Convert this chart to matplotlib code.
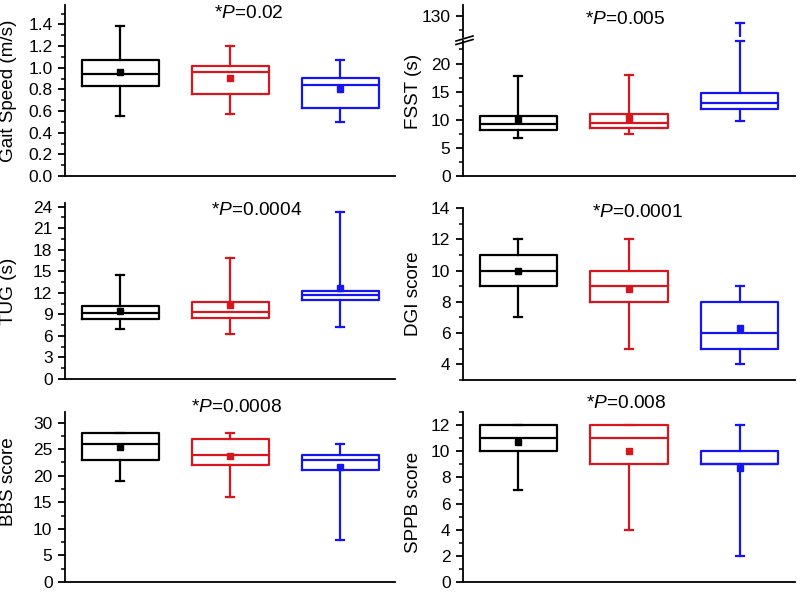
import matplotlib.pyplot as plt
from matplotlib.ticker import MultipleLocator
from matplotlib.lines import Line2D

plt.rcParams['font.family'] = ['Liberation Sans', 'DejaVu Sans']
plt.rcParams['mathtext.fontset'] = 'custom'
plt.rcParams['mathtext.rm'] = 'Liberation Sans'
plt.rcParams['mathtext.it'] = 'Liberation Sans:italic'
plt.rcParams['font.size'] = 12

# 그룹 색 (검정, 빨강, 파랑)
colors = ['#000000', '#d8161d', '#1515f2']

# 각 행: [whisker low, Q1, median, Q3, whisker high, mean]
gait_speed = [[0.55, 0.83, 0.94, 1.07, 1.39, 0.965],
              [0.57, 0.76, 0.965, 1.02, 1.20, 0.905],
              [0.50, 0.63, 0.84, 0.91, 1.07, 0.80]]
fsst = [[6.75, 8.2, 9.2, 10.65, 17.7, 10.15],
        [7.4, 8.6, 9.35, 11.0, 18.0, 10.4],
        [9.8, 11.9, 12.9, 14.7, 128.8, float('nan')]]
tug = [[7.0, 8.35, 9.15, 10.1, 14.45, 9.45],
       [6.2, 8.45, 9.3, 10.65, 16.9, 10.25],
       [7.2, 10.95, 11.65, 12.2, 23.2, 12.6]]
dgi = [[7, 9, 10, 11, 12, 9.97],
       [5, 8, 9, 10, 12, 8.8],
       [4, 5, 6, 8, 9, 6.35]]
bbs = [[19, 23, 26, 28, 28, 25.4],
       [16, 22, 24, 27, 28, 23.7],
       [8, 21, 23, 24, 26, 21.6]]
sppb = [[7, 10, 11, 12, 12, 10.7],
        [4, 9, 11, 12, 12, 10.05],
        [2, 9, 9, 10, 12, 8.75]]

p_texts = ['0.02', '0.005', '0.0004', '0.0001', '0.0008', '0.008']
y_labels = ['Gait Speed (m/s)', 'FSST (s)', 'TUG (s)', 'DGI score', 'BBS score', 'SPPB score']

W, H = 800, 595


def px_axes(x0, y0, x1, y1):
    # 픽셀 좌표(위에서부터)로 axes 만들기
    return fig.add_axes([x0 / W, 1 - y1 / H, (x1 - x0) / W, (y1 - y0) / H])


def style_axes(ax, major, minor, ylim):
    ax.set_xlim(0.5, 3.5)
    ax.set_ylim(*ylim)
    ax.set_xticks([])
    ax.yaxis.set_major_locator(MultipleLocator(major))
    ax.yaxis.set_minor_locator(MultipleLocator(minor))
    ax.spines['top'].set_visible(False)
    ax.spines['right'].set_visible(False)
    for s in ['left', 'bottom']:
        ax.spines[s].set_linewidth(1.3)
    ax.tick_params(axis='y', which='major', length=5, width=1.3, pad=4, labelsize=12.5)
    ax.tick_params(axis='y', which='minor', length=3, width=1.1)


def draw_boxes(ax, rows):
    stats = []
    for r in rows:
        stats.append(dict(whislo=r[0], q1=r[1], med=r[2], q3=r[3], whishi=r[4], mean=r[5]))
    res = ax.bxp(stats, positions=[1, 2, 3], widths=0.7, capwidths=0.075,
                 showmeans=True, showfliers=False, manage_ticks=False,
                 boxprops=dict(linewidth=1.6), medianprops=dict(linewidth=1.6),
                 whiskerprops=dict(linewidth=1.6), capprops=dict(linewidth=1.6),
                 meanprops=dict(marker='s', markersize=4.5))
    for i, c in enumerate(colors):
        res['boxes'][i].set_color(c)
        res['medians'][i].set_color(c)
        res['means'][i].set_markerfacecolor(c)
        res['means'][i].set_markeredgecolor(c)
        for j in (2 * i, 2 * i + 1):
            res['whiskers'][j].set_color(c)
            res['caps'][j].set_color(c)
    return res


fig = plt.figure(figsize=(8, 5.95), dpi=100)

# 1. Gait speed
ax1 = px_axes(65, 5, 395, 176)
draw_boxes(ax1, gait_speed)
style_axes(ax1, 0.2, 0.1, (0, 1.58))
ax1.yaxis.set_major_formatter(lambda v, p: f'{v:.1f}')

# 2. FSST (끊긴 축)
ax2 = px_axes(463, 41, 795, 176)
ax2u = px_axes(463, 5, 795, 37)
draw_boxes(ax2, fsst)
draw_boxes(ax2u, fsst)
style_axes(ax2, 5, 2.5, (0, 24))
style_axes(ax2u, 10, 2.5, (126.3, 131.9))
ax2u.spines['bottom'].set_visible(False)
# 끊긴 자리의 캡
ax2.plot([3 - 0.0375, 3 + 0.0375], [24, 24], color=colors[2], lw=1.6, clip_on=False)
for dy in (0, 3.5):
    fig.add_artist(Line2D([456 / W, 473 / W], [1 - (41 + dy) / H, 1 - (36 + dy) / H],
                          color='black', lw=1.2))

# 3. TUG
ax3 = px_axes(65, 203, 395, 379)
draw_boxes(ax3, tug)
style_axes(ax3, 3, 1.5, (0, 24.5))

# 4. DGI
ax4 = px_axes(463, 208, 795, 380)
draw_boxes(ax4, dgi)
style_axes(ax4, 2, 1, (3, 14))

# 5. BBS
ax5 = px_axes(65, 412, 395, 582)
draw_boxes(ax5, bbs)
style_axes(ax5, 5, 2.5, (0, 32))

# 6. SPPB
ax6 = px_axes(463, 412, 795, 582)
draw_boxes(ax6, sppb)
style_axes(ax6, 2, 1, (0, 13))

axes = [ax1, ax2, ax3, ax4, ax5, ax6]
label_pos = [(-0.145, 0.5), (-0.125, 0.63), (-0.145, 0.5), (-0.125, 0.5), (-0.145, 0.59), (-0.122, 0.47)]
text_pos = [(249, 13), (625, 20), (257, 210), (637, 212), (237, 408), (626, 403)]

for ax, lab, lp, pt, tp in zip(axes, y_labels, label_pos, p_texts, text_pos):
    ax.set_ylabel(lab, fontsize=13.6)
    ax.yaxis.set_label_coords(*lp)
    fig.text(tp[0] / W, 1 - tp[1] / H, '*$P$=' + pt, fontsize=13.8, ha='center', va='center')

fig.savefig('out.png', dpi=100)
